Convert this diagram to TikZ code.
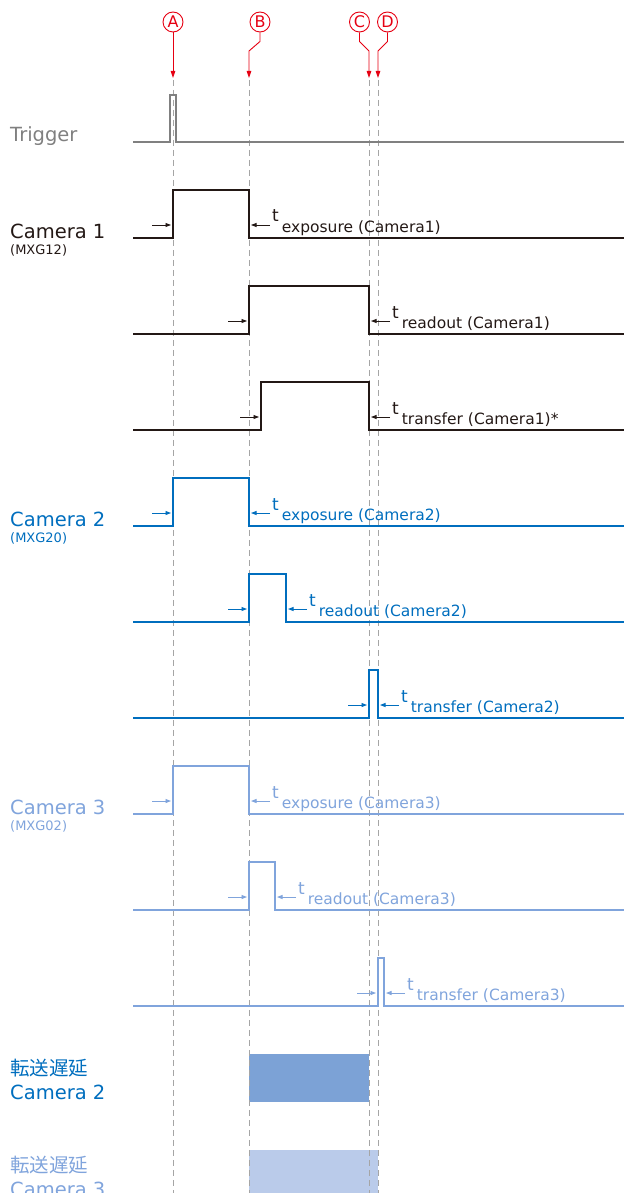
\documentclass[tikz,border=0pt]{standalone}
\usepackage{fontspec}
\setmainfont{DejaVu Sans}
\newfontfamily\jpfont{Noto Sans CJK JP}
\usetikzlibrary{arrows.meta}

\definecolor{markred}{RGB}{230,0,18}
\definecolor{triggray}{RGB}{128,128,128}
\definecolor{guidegray}{RGB}{165,165,165}
\definecolor{cama}{RGB}{35,24,21}
\definecolor{camb}{RGB}{0,110,190}
\definecolor{camc}{RGB}{128,164,220}
\definecolor{barb}{RGB}{124,162,214}
\definecolor{barc}{RGB}{186,203,234}

\begin{document}
\begin{tikzpicture}[x=1pt, y=-1pt,
  signal/.style={line width=1.8pt},
  guide/.style={guidegray, line width=0.9pt, dash pattern=on 6pt off 4pt},
  marker/.style={circle, draw=markred, text=markred, line width=0.9pt,
    minimum size=20pt, inner sep=0pt, font=\fontsize{16}{16}\selectfont},
  markline/.style={markred, line width=0.9pt, -{Triangle[length=7pt, width=4.5pt]}},
  tick/.style={line width=0.9pt, -{Triangle[length=5.5pt, width=4pt]}},
  big/.style={anchor=base west, inner sep=0pt, font=\fontsize{19.5}{20}\selectfont},
  small/.style={anchor=base west, inner sep=0pt, font=\fontsize{13}{13}\selectfont},
  sub/.style={anchor=base west, inner sep=0pt, font=\fontsize{15.5}{16}\selectfont}]
  \useasboundingbox (0,0) rectangle (624,1193);

  % --- transfer delay bars ---
  \fill[barb] (249,1054) rectangle (369,1102);
  \fill[barc] (249,1150) rectangle (378,1210);

  % --- guide lines A B C D ---
  \foreach \x in {173,249,369,378}
    \draw[guide] (\x,80) -- (\x,1193);

  % markers
  \foreach \n/\x in {A/173,B/260,C/359.5,D/387.5}
    \node[marker] (m\n) at (\x,22) {\n};
  \foreach \n/\x in {A/173,B/249,C/369,D/378}
    \coordinate (e\n) at (\x,78);
  \draw[markline] (mA.south) -- (eA);
  \draw[markline] (mB.south) -- ++(0,9) -- (249,51) -- (eB);
  \draw[markline] (mC.south) -- ++(0,9) -- (369,51) -- (eC);
  \draw[markline] (mD.south) -- ++(0,9) -- (378,51) -- (eD);

  % trigger
  \node[big, triggray] (trig) at (10,142) {Trigger};
  \draw[signal, triggray] (133,142) -- (170,142) -- (170,95) -- (176,95)
    -- (176,142) -- (624,142);

  % --- pulses: base / rise / fall / colour / subscript ---
  \foreach \y/\r/\f/\c/\s in {
      238/173/249/cama/exposure (Camera1),
      334/249/369/cama/readout (Camera1),
      430/261/369/cama/transfer (Camera1)*,
      526/173/249/camb/exposure (Camera2),
      622/249/286/camb/readout (Camera2),
      718/369/378/camb/transfer (Camera2),
      814/173/249/camc/exposure (Camera3),
      910/249/275/camc/readout (Camera3),
      1006/378/384/camc/transfer (Camera3)} {
    \draw[signal, \c] (133,\y) -- (\r,\y) -- (\r,\y-48) -- (\f,\y-48)
      -- (\f,\y) -- (624,\y);
    \draw[tick, \c] (\r-21,\y-13) -- (\r-2,\y-13);
    \draw[tick, \c] (\f+21,\y-13) -- (\f+2,\y-13);
    \node[sub, text=\c] (t\y) at (\f+23,\y-6)
      {\raisebox{10pt}{\fontsize{17}{17}\selectfont t}\hspace{3pt}\s};
  }

  % camera labels
  \foreach \k/\c/\y/\m in {1/cama/238/MXG12, 2/camb/526/MXG20, 3/camc/814/MXG02} {
    \node[big, text=\c] (cam\k) at (10,\y) {Camera \k};
    \node[small, text=\c] (cam\k m) at (10,\y+16) {(\m)};
  }

  % delay labels
  \node[big, camb, font=\jpfont\fontsize{19.5}{20}\selectfont] (gb) at (10,1075) {転送遅延};
  \node[big, camb] (gbc) at (10,1099) {Camera 2};
  \node[big, camc, font=\jpfont\fontsize{19.5}{20}\selectfont] (gc) at (10,1172) {転送遅延};
  \node[big, camc] (gcc) at (10,1196) {Camera 3};
\end{tikzpicture}
\end{document}
